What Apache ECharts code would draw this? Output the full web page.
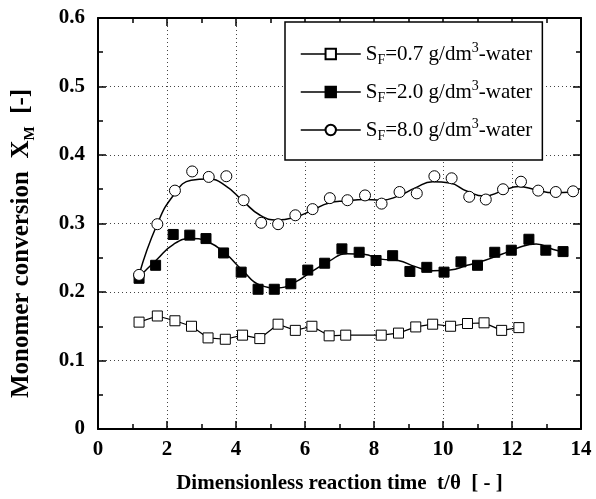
<!DOCTYPE html>
<html>
<head>
<meta charset="utf-8">
<script src="https://cdn.jsdelivr.net/npm/echarts@6/dist/echarts.min.js"></script>
<style>
  html, body { margin: 0; padding: 0; background: #fff; }
  #chart { width: 596px; height: 499px; }
</style>
</head>
<body>
<div id="chart"></div>
<script>
// measured points, S_F = 0.7 g/dm3 (open squares)
var t07 = [1.19, 1.72, 2.23, 2.71, 3.19, 3.69, 4.19, 4.69, 5.22, 5.72, 6.20, 6.70, 7.18, 8.21, 8.71, 9.21, 9.70, 10.22, 10.71, 11.19, 11.70, 12.20];
var x07 = [0.156, 0.165, 0.158, 0.150, 0.133, 0.131, 0.137, 0.132, 0.153, 0.144, 0.150, 0.136, 0.137, 0.137, 0.140, 0.149, 0.153, 0.150, 0.154, 0.155, 0.144, 0.148];

// S_F = 2.0 g/dm3 (filled squares)
var t20 = [1.19, 1.67, 2.18, 2.66, 3.13, 3.64, 4.15, 4.64, 5.11, 5.59, 6.08, 6.57, 7.07, 7.57, 8.06, 8.54, 9.04, 9.53, 10.03, 10.52, 11.00, 11.50, 11.98, 12.49, 12.98, 13.48];
var x20 = [0.220, 0.239, 0.284, 0.283, 0.278, 0.257, 0.229, 0.204, 0.204, 0.212, 0.232, 0.242, 0.263, 0.258, 0.246, 0.253, 0.230, 0.236, 0.229, 0.244, 0.239, 0.258, 0.261, 0.277, 0.261, 0.259];

// S_F = 8.0 g/dm3 (open circles)
var t80 = [1.19, 1.72, 2.23, 2.73, 3.21, 3.72, 4.22, 4.73, 5.22, 5.72, 6.22, 6.72, 7.23, 7.74, 8.22, 8.74, 9.24, 9.75, 10.25, 10.76, 11.24, 11.74, 12.26, 12.76, 13.27, 13.77];
var x80 = [0.225, 0.299, 0.348, 0.376, 0.368, 0.369, 0.334, 0.301, 0.299, 0.312, 0.321, 0.337, 0.334, 0.341, 0.329, 0.346, 0.344, 0.369, 0.366, 0.339, 0.335, 0.350, 0.361, 0.348, 0.346, 0.347];

// smooth fitted curves
var fit20T = [1.19, 1.7, 2.2, 2.7, 3.2, 3.7, 4.2, 4.7, 5.2, 5.7, 6.2, 6.7, 7.2, 7.7, 8.2, 8.7, 9.2, 9.7, 10.2, 10.7, 11.2, 11.7, 12.2, 12.7, 13.2, 13.48];
var fit20X = [0.222, 0.247, 0.270, 0.278, 0.273, 0.256, 0.231, 0.210, 0.206, 0.214, 0.230, 0.245, 0.256, 0.255, 0.248, 0.246, 0.237, 0.231, 0.232, 0.239, 0.246, 0.255, 0.265, 0.270, 0.262, 0.259];
var fit80T = [1.19, 1.7, 2.2, 2.7, 3.2, 3.7, 4.2, 4.7, 5.2, 5.7, 6.2, 6.7, 7.2, 7.7, 8.2, 8.7, 9.2, 9.7, 10.2, 10.7, 11.2, 11.7, 12.2, 12.7, 13.2, 13.77];
var fit80X = [0.225, 0.297, 0.342, 0.363, 0.365, 0.355, 0.333, 0.312, 0.305, 0.309, 0.319, 0.330, 0.333, 0.335, 0.334, 0.340, 0.352, 0.361, 0.359, 0.347, 0.340, 0.347, 0.354, 0.349, 0.345, 0.346];

var legendNames = ['SF=0.7 g/dm3-water', 'SF=2.0 g/dm3-water', 'SF=8.0 g/dm3-water'];
var legendConc = ['0.7', '2.0', '8.0'];

var xTicks = { min: 0, max: 14, interval: 2 };
var yTicks = { min: 0, max: 0.6, interval: 0.1 };

function pairs(xs, ys) {
  return xs.map(function (v, i) { return [v, ys[i]]; });
}

var serif = 'Liberation Serif';
var labelFont = { fontFamily: serif, fontWeight: 'bold', fontSize: 21, color: '#000' };

var dom = document.getElementById('chart');
var myChart = echarts.init(dom, null, { renderer: 'canvas' });

function makeX(pos, showLabel) {
  return {
    type: 'value', position: pos,
    min: xTicks.min, max: xTicks.max, interval: xTicks.interval,
    axisLine: { show: true, onZero: false, lineStyle: { color: '#000', width: 2 } },
    axisTick: { show: true, inside: true, length: 8, lineStyle: { color: '#000', width: 1.5 } },
    minorTick: { show: true, splitNumber: 2, length: 5, lineStyle: { color: '#000', width: 1.5 } },
    axisLabel: Object.assign({ show: showLabel, margin: 10 }, labelFont),
    splitLine: { show: showLabel, lineStyle: { color: '#444', type: [1, 3], width: 1 } }
  };
}
function makeY(pos, showLabel) {
  return {
    type: 'value', position: pos,
    min: yTicks.min, max: yTicks.max, interval: yTicks.interval,
    axisLine: { show: true, onZero: false, lineStyle: { color: '#000', width: 2 } },
    axisTick: { show: true, inside: true, length: 8, lineStyle: { color: '#000', width: 1.5 } },
    minorTick: { show: true, splitNumber: 2, length: 5, lineStyle: { color: '#000', width: 1.5 } },
    axisLabel: Object.assign({ show: showLabel, margin: 13, formatter: function (v) { return v === 0 ? '0' : v.toFixed(1); } }, labelFont),
    splitLine: { show: showLabel, lineStyle: { color: '#444', type: [1, 3], width: 1 } }
  };
}

var xBottom = makeX('bottom', true);
xBottom.name = '{b|Dimensionless reaction time  t/θ  [ - ]}';
xBottom.nameLocation = 'middle';
xBottom.nameGap = 44;
xBottom.nameTextStyle = { rich: { b: { fontFamily: serif, fontWeight: 'bold', fontSize: 21, color: '#000' } } };

var yLeft = makeY('left', true);
yLeft.name = '{b|Monomer conversion  X}{sub|M}{b|  [-]}';
yLeft.nameLocation = 'middle';
yLeft.nameRotate = 90;
yLeft.nameGap = 60;
yLeft.nameTextStyle = { padding: [0, 40, 0, 0], rich: {
  b: { fontFamily: serif, fontWeight: 'bold', fontSize: 25, color: '#000', lineHeight: 32 },
  sub: { fontFamily: serif, fontWeight: 'bold', fontSize: 15, color: '#000', lineHeight: 15, verticalAlign: 'bottom' }
} };

var legendRich = {
  s: { fontFamily: serif, fontSize: 21, color: '#000', lineHeight: 26 },
  sub: { fontFamily: serif, fontSize: 14, color: '#000', lineHeight: 12, verticalAlign: 'bottom' },
  sup: { fontFamily: serif, fontSize: 14, color: '#000', lineHeight: 13, verticalAlign: 'top' }
};

var legendLine = { color: '#000', width: 1.5, opacity: 1 };

var option = {
  backgroundColor: '#fff',
  animation: false,
  grid: { left: 98, right: 15, top: 18, bottom: 67, containLabel: false },
  legend: {
    left: 285, top: 22,
    orient: 'vertical',
    backgroundColor: '#fff',
    borderColor: '#000', borderWidth: 1.5,
    padding: [19, 10, 17, 15],
    itemGap: 12,
    itemWidth: 60, itemHeight: 13,
    data: legendNames.map(function (n) { return { name: n, lineStyle: legendLine }; }),
    formatter: function (name) {
      var c = legendConc[legendNames.indexOf(name)];
      return '{s|S}{sub|F}{s|=' + c + ' g/dm}{sup|3}{s|-water}';
    },
    textStyle: { rich: legendRich }
  },
  xAxis: [xBottom, makeX('top', false)],
  yAxis: [yLeft, makeY('right', false)],
  series: [
    {
      name: legendNames[0], type: 'line',
      data: pairs(t07, x07),
      symbol: 'rect', symbolSize: 10,
      itemStyle: { color: '#fff', borderColor: '#000', borderWidth: 1 },
      lineStyle: { color: '#000', width: 1.2 },
      z: 3
    },
    {
      name: legendNames[1], type: 'line',
      data: pairs(t20, x20),
      symbol: 'rect', symbolSize: 10,
      itemStyle: { color: '#000', borderColor: '#000', borderWidth: 1 },
      lineStyle: { color: '#000', opacity: 0 },
      z: 3
    },
    {
      name: legendNames[2], type: 'line',
      data: pairs(t80, x80),
      symbol: 'circle', symbolSize: 11,
      itemStyle: { color: '#fff', borderColor: '#000', borderWidth: 1 },
      lineStyle: { color: '#000', opacity: 0 },
      z: 3
    },
    {
      name: 'fit20', type: 'line', smooth: true, symbol: 'none', silent: true,
      data: pairs(fit20T, fit20X),
      lineStyle: { color: '#000', width: 1.5 },
      z: 2
    },
    {
      name: 'fit80', type: 'line', smooth: true, symbol: 'none', silent: true,
      data: pairs(fit80T, fit80X),
      lineStyle: { color: '#000', width: 1.5 },
      z: 2
    }
  ]
};

myChart.setOption(option);
window.addEventListener('resize', myChart.resize);
</script>
</body>
</html>
